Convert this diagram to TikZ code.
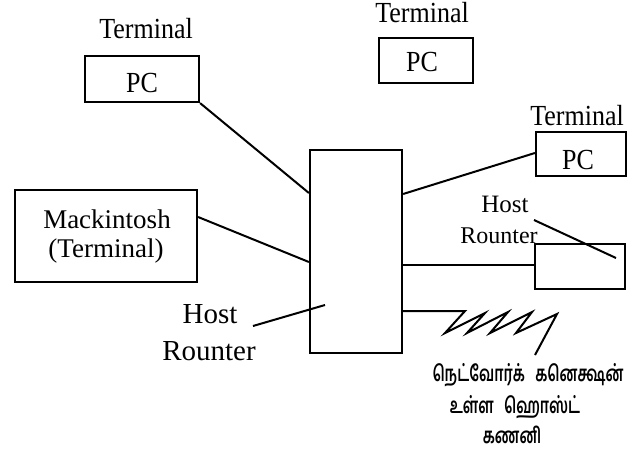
\documentclass[tikz,border=0pt]{standalone}
\usepackage{fontspec}
\setmainfont{Liberation Serif}
\newfontfamily\tamilfont[Script=Tamil]{Hind Madurai}
\newcommand{\tall}[1]{\scalebox{1}[1.12]{#1}}
\newcommand{\tam}[1]{\scalebox{0.78}[1.15]{#1}}
\begin{document}
\begin{tikzpicture}[x=1pt,y=-1pt,
  box/.style={draw,line width=2.2pt,inner sep=0pt},
  wire/.style={line width=2pt},
  lbl/.style={anchor=base,inner sep=0pt,font=\fontsize{26}{28}\selectfont},
  tlbl/.style={anchor=base,inner sep=0pt,font=\tamilfont\bfseries\fontsize{19}{21}\selectfont}]
\useasboundingbox (0,0) rectangle (644,452);
% boxes
\node[box,minimum width=114pt,minimum height=46pt] (pc1) at (142,79) {};
\node[box,minimum width=94pt,minimum height=45pt] (pc2) at (426,60.5) {};
\node[box,minimum width=90pt,minimum height=44pt] (pc3) at (581,154) {};
\node[box,minimum width=182pt,minimum height=92pt] (mac) at (106,236) {};
\node[box,minimum width=92pt,minimum height=203pt] (hub) at (356,251.5) {};
\node[box,minimum width=90pt,minimum height=45pt] (hr) at (580,266.5) {};
% texts
\node[lbl] (t1) at (146,39) {\tall{Terminal}};
\node[lbl] (t2) at (422,23) {\tall{Terminal}};
\node[lbl] (t3) at (577,125) {\tall{Terminal}};
\node[lbl] (p1) at (142,92) {\tall{PC}};
\node[lbl] (p2) at (422,71) {\tall{PC}};
\node[lbl] (p3) at (578,169) {\tall{PC}};
\node[lbl,font=\fontsize{27}{29}\selectfont] (m1) at (107,228) {Mackintosh};
\node[lbl,font=\fontsize{27}{29}\selectfont] (m2) at (106,257) {(Terminal)};
\node[lbl,font=\fontsize{29}{31}\selectfont] (h1) at (210,323) {Host};
\node[lbl,font=\fontsize{29}{31}\selectfont] (h2) at (209,360) {Rounter};
\node[lbl,font=\fontsize{25}{27}\selectfont] (h3) at (505,212) {Host};
\node[lbl,font=\fontsize{24}{26}\selectfont] (h4) at (499,243) {Rounter};
\node[tlbl] (ta1) at (528,381) {\tam{நெட்வோர்க்\hspace{0.45em} கனெக்ஷன்}};
\node[tlbl] (ta2) at (515,413) {\tam{உள்ள\hspace{0.45em} ஹொஸ்ட்}};
\node[tlbl] (ta3) at (512,443) {\tam{கணனி}};
% connector points
\coordinate (hw1) at (hub.west |- 0,193);
\coordinate (hw2) at (hub.west |- 0,262);
\coordinate (he1) at (hub.east |- 0,194);
\coordinate (he2) at (hub.east |- 0,265);
\coordinate (he3) at (hub.east |- 0,311);
\coordinate (macE) at (mac.east |- 0,217);
\coordinate (pc3W) at (pc3.west |- 0,153);
\coordinate (hrW) at (hr.west |- 0,265);
\draw[wire] (pc1.south east) -- (hw1);
\draw[wire] (macE) -- (hw2);
\draw[wire] (he1) -- (pc3W);
\draw[wire] (he2) -- (hrW);
% zigzag
\coordinate (zend) at (535,355);
\draw[wire,line join=miter] (he3) -- (465,311) -- (445,333) -- (485,313) -- (467,333) -- (508,312) -- (490,333) -- (532,312) -- (516,333) -- (557,314) -- (zend);
% leader lines
\coordinate (la) at (253,326);
\coordinate (lb) at (325,305);
\coordinate (lc) at (534,220);
\coordinate (ld) at (616,258);
\draw[wire] (la) -- (lb);
\draw[wire] (lc) -- (ld);
\end{tikzpicture}
\end{document}
